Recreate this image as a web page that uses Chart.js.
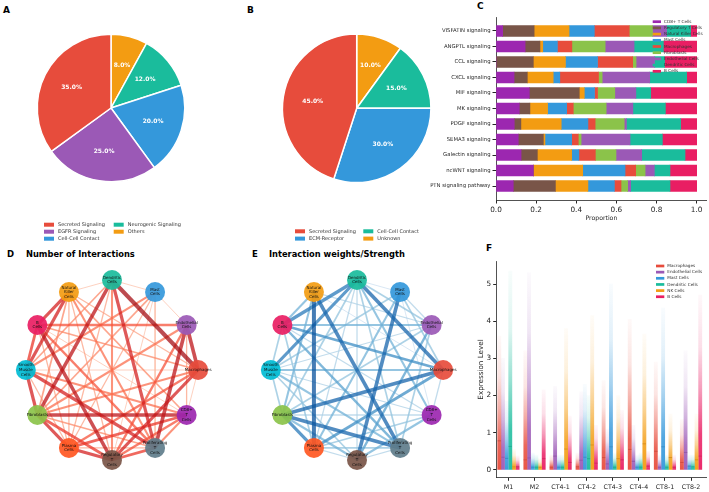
<!DOCTYPE html>
<html><head><meta charset="utf-8">
<script src="https://cdn.jsdelivr.net/npm/chart.js@4.4.1/dist/chart.umd.min.js"></script>
<style>
body{margin:0;width:709px;height:492px;background:#fff;position:relative;overflow:hidden;font-family:"DejaVu Sans",sans-serif;}
canvas{position:absolute;}
.lbl{position:absolute;font-weight:bold;color:#000;line-height:1;white-space:nowrap;}
</style></head><body>
<div class="lbl" style="left:3px;top:5.7px;font-size:9px">A</div>
<div class="lbl" style="left:247px;top:5.7px;font-size:9px">B</div>
<div class="lbl" style="left:477px;top:1.7px;font-size:9px">C</div>
<div class="lbl" style="left:7px;top:250px;font-size:8.5px">D</div>
<div class="lbl" style="left:26px;top:250px;font-size:8.3px">Number of Interactions</div>
<div class="lbl" style="left:252px;top:250px;font-size:8.5px">E</div>
<div class="lbl" style="left:269px;top:250px;font-size:8.3px">Interaction weights/Strength</div>
<div class="lbl" style="left:486px;top:244px;font-size:9px">F</div>
<canvas id="pieA" width="230" height="250" style="left:0;top:0"></canvas>
<canvas id="pieB" width="200" height="250" style="left:240px;top:0"></canvas>
<canvas id="barC" width="279" height="228" style="left:430px;top:0"></canvas>
<canvas id="netD" width="224" height="216" style="left:0;top:262px"></canvas>
<canvas id="netE" width="224" height="216" style="left:245px;top:262px"></canvas>
<canvas id="violinF" width="239" height="242" style="left:470px;top:250px"></canvas>
<script>
// ---------- DATA ----------
const pieALabels = ['Secreted Signaling','EGFR Signaling','Cell-Cell Contact','Neurogenic Signaling','Others'];
const pieAValues = [35,25,20,12,8];
const pieAColors = ['#e74c3c','#9b59b6','#3498db','#1abc9c','#f39c12'];

const pieBLabels = ['Secreted Signaling','ECM-Receptor','Cell-Cell Contact','Unknown'];
const pieBValues = [45,30,15,10];
const pieBColors = ['#e74c3c','#3498db','#1abc9c','#f39c12'];

const cPathways = ['VISFATIN signaling','ANGPTL signaling','CCL signaling','CXCL signaling','MIF signaling','MK signaling','PDGF signaling','SEMA3 signaling','Galectin signaling','ncWNT signaling','PTN signaling pathway'];
const cCellTypes = ['CD8+ T Cells','Regulatory T Cells','Natural Killer Cells','Mast Cells','Macrophages','Fibroblasts','Endothelial Cells','Dendritic Cells','B Cells'];
const cColors = ['#9c27b0','#795548','#f39c12','#3498db','#e74c3c','#8bc34a','#9b59b6','#1abc9c','#e91e63'];
const cCD8 =        [0.033,0.145,0.000,0.090,0.166,0.116,0.091,0.111,0.125,0.186,0.086];
const cTreg =       [0.157,0.074,0.186,0.066,0.249,0.053,0.033,0.125,0.081,0.000,0.210];
const cNK =         [0.174,0.014,0.160,0.129,0.025,0.088,0.201,0.008,0.171,0.246,0.162];
const cMast =       [0.126,0.073,0.160,0.033,0.051,0.095,0.133,0.133,0.036,0.211,0.132];
const cMacro =      [0.174,0.072,0.175,0.193,0.015,0.033,0.036,0.033,0.082,0.053,0.033];
const cFibro =      [0.116,0.166,0.017,0.018,0.086,0.164,0.145,0.014,0.103,0.047,0.033];
const cEndo =       [0.070,0.144,0.092,0.237,0.105,0.133,0.011,0.244,0.128,0.046,0.015];
const cDendritic =  [0.120,0.146,0.050,0.184,0.074,0.162,0.270,0.161,0.216,0.078,0.196];
const cBcells =     [0.030,0.166,0.160,0.050,0.229,0.156,0.080,0.171,0.058,0.133,0.133];
const cSeries = [cCD8,cTreg,cNK,cMast,cMacro,cFibro,cEndo,cDendritic,cBcells];
const cTicks = [0,0.2,0.4,0.6,0.8,1.0];

const nodeNames = ['Dendritic\nCells','Mast\nCells','Endothelial\nCells','Macrophages','CD8+\nT\nCells','Proliferating\nT\nCells','Regulatory\nT\nCells','Plasma\nCells','Fibroblasts','Smooth\nMuscle\nCells','B\nCells','Natural\nKiller\nCells'];
const nodeColors = ['#1abc9c','#3498db','#9b59b6','#e74c3c','#9c27b0','#607d8b','#795548','#ff5722','#8bc34a','#00bcd4','#e91e63','#f39c12'];
// [source, target, weight]
const edgesD = [[0,3,10],[0,8,9],[10,6,9],[9,5,8],[8,4,9],[2,3,9],[2,5,9],[11,10,8],[11,9,8],[8,7,8],[7,6,8],[6,5,7],[9,8,8],[10,9,7],[0,5,8],[3,6,8],[4,7,7],[8,6,7],[10,2,6],[0,6,5],[3,7,6],[3,8,5],[2,8,5],[2,6,6],[1,9,5],[4,6,6],[4,5,5],[10,5,6],[11,4,4],[9,4,5],[1,8,4],[10,3,4],[0,9,4],[11,5,5],[11,7,3],[1,5,2],[11,3,3],[0,7,3],[1,7,3],[11,8,4],[9,3,2],[10,7,3],[0,11,2],[1,2,2],[0,1,2],[2,4,3],[9,7,3],[3,4,2],[8,5,4],[11,6,3],[7,5,3],[1,6,2],[10,4,2]];
const edgesE = [[11,7,10],[11,5,9],[1,6,9],[0,3,9],[0,10,8],[8,3,9],[8,5,9],[8,7,8],[10,3,7],[0,9,8],[2,6,6],[3,7,7],[10,5,6],[10,2,5],[9,3,5],[8,4,3],[0,2,4],[0,4,5],[0,5,4],[4,6,5],[4,7,4],[5,7,4],[1,7,5],[1,3,4],[9,5,5],[10,7,4],[11,8,5],[11,10,5],[9,8,4],[8,6,5],[7,6,3],[6,5,3],[2,8,4],[0,6,3],[0,8,4],[2,9,3],[1,9,4],[11,2,3],[10,4,3],[0,1,2],[1,2,3],[3,4,3],[9,4,3],[9,6,4],[11,3,2],[0,7,3],[10,9,4],[2,5,4],[1,4,2]];

const fGroups = ['M1','M2','CT4-1','CT4-2','CT4-3','CT4-4','CT8-1','CT8-2'];
const fCellTypes = ['Macrophages','Endothelial Cells','Mast Cells','Dendritic Cells','NK Cells','B Cells'];
const fColors = ['#e74c3c','#9b59b6','#3498db','#1abc9c','#f39c12','#e91e63'];
const fMaxMacrophages = [3.6,3.2,0.4,0.45,2.4,4.05,2.9,1.35];
const fMaxEndothelial = [3.0,5.3,2.25,2.1,1.1,1.2,0.4,3.2];
const fMaxMast =        [1.85,0.45,0.4,2.3,5.0,0.4,4.35,0.4];
const fMaxDendritic =   [5.35,0.4,0.4,2.0,0.45,0.45,0.4,0.4];
const fMaxNK =          [0.55,0.3,3.8,4.15,2.0,3.65,1.5,1.5];
const fMaxB =           [0.38,2.15,1.45,1.2,1.6,0.5,0.4,4.7];
const fMedMacrophages = [0.78,0.27,0.07,0.08,0.33,0.55,0.5,0.2];
const fMedEndothelial = [0.34,0.32,0.37,0.26,0.16,0.23,0.07,0.47];
const fMedMast =        [0.31,0.07,0.07,0.34,0.62,0.07,0.62,0.1];
const fMedDendritic =   [0.63,0.07,0.07,0.3,0.07,0.07,0.07,0.08];
const fMedNK =          [0.08,0.07,0.56,0.67,0.3,0.7,0.33,0.27];
const fMedB =           [0.08,0.3,0.2,0.18,0.27,0.1,0.07,0.37];
const fMax = [fMaxMacrophages,fMaxEndothelial,fMaxMast,fMaxDendritic,fMaxNK,fMaxB];
const fMed = [fMedMacrophages,fMedEndothelial,fMedMast,fMedDendritic,fMedNK,fMedB];
const fTicks = [0,1,2,3,4,5];

// ---------- HELPERS ----------
Chart.defaults.font.family = "'DejaVu Sans', sans-serif";
Chart.defaults.color = '#262626';
Chart.defaults.animation = false;
const FONT = "'DejaVu Sans', sans-serif";
function hexRgb(h){h=h.replace('#','');return [parseInt(h.slice(0,2),16),parseInt(h.slice(2,4),16),parseInt(h.slice(4,6),16)];}
function rgba(h,a){const c=hexRgb(h);return `rgba(${c[0]},${c[1]},${c[2]},${a})`;}
function cmap(stops,t,a){const n=stops.length-1;const p=Math.min(Math.max(t,0),1)*n;const i=Math.min(Math.floor(p),n-1);const f=p-i;const c=stops[i].map((v,k)=>Math.round(v+(stops[i+1][k]-v)*f));return `rgba(${c[0]},${c[1]},${c[2]},${a})`;}
const redsStops=[[252,187,161],[252,146,114],[251,106,74],[239,59,44],[203,24,29],[165,15,21]];
const bluesStops=[[198,219,239],[158,202,225],[107,174,214],[66,146,198],[33,113,181],[8,81,156]];

function boxLegend(id, getItems, cfg){
  return {id, afterDraw(chart){
    const items=getItems(chart); const c=chart.ctx; c.save();
    c.font=cfg.font; c.textBaseline='middle'; c.textAlign='left';
    items.forEach((it,i)=>{
      const col=Math.floor(i/cfg.rows), row=i%cfg.rows;
      const x=cfg.x+col*(cfg.colW||0), y=cfg.y+row*cfg.rowH;
      c.fillStyle=it.color; c.fillRect(x,y-cfg.boxH/2,cfg.boxW,cfg.boxH);
      c.fillStyle='#333'; c.fillText(it.label,x+cfg.boxW+cfg.gap,y);
    });
    c.restore();
  }};
}

const pieLabelPlugin = {id:'pieLabels', afterDatasetsDraw(chart){
  const meta=chart.getDatasetMeta(0); const data=chart.data.datasets[0].data;
  const total=data.reduce((a,b)=>a+b,0); const c=chart.ctx; c.save();
  c.font="bold 6px "+FONT; c.fillStyle='#fff'; c.textAlign='center'; c.textBaseline='middle';
  meta.data.forEach((arc,i)=>{
    const p=arc.getProps(['x','y','startAngle','endAngle','outerRadius'],true);
    const mid=(p.startAngle+p.endAngle)/2;
    c.fillText((data[i]/total*100).toFixed(1)+'%', p.x+Math.cos(mid)*p.outerRadius*0.6, p.y+Math.sin(mid)*p.outerRadius*0.6);
  });
  c.restore();
}};

function pieChart(id, labels, values, colors, pad, legendCfg){
  // matplotlib draws counter-clockwise from the top; Chart.js clockwise -> reverse order
  const rl=[...labels].reverse(), rv=[...values].reverse(), rc=[...colors].reverse();
  new Chart(document.getElementById(id),{
    type:'pie',
    data:{labels:rl,datasets:[{data:rv,backgroundColor:rc,borderColor:'#fff',borderWidth:1.5}]},
    options:{responsive:false,animation:false,layout:{padding:pad,autoPadding:false},
      plugins:{legend:{display:false},tooltip:{enabled:false}}},
    plugins:[pieLabelPlugin, boxLegend('lg'+id,()=>labels.map((l,i)=>({label:l,color:colors[i]})),legendCfg)]
  });
}

pieChart('pieA',pieALabels,pieAValues,pieAColors,{left:36.5,top:33.5,right:44.5,bottom:67.5},
  {x:44,y:224.7,rows:3,rowH:7,colW:69.7,boxW:10,boxH:4,gap:4,font:"5px "+FONT});
pieChart('pieB',pieBLabels,pieBValues,pieBColors,{left:41.7,top:33.3,right:8.3,bottom:66.7},
  {x:55,y:231.3,rows:2,rowH:7.3,colW:68.3,boxW:10,boxH:4,gap:4,font:"5px "+FONT});

// ---------- C: stacked horizontal bars ----------
new Chart(document.getElementById('barC'),{
  type:'bar',
  data:{datasets:cSeries.map((s,k)=>({label:cCellTypes[k],backgroundColor:cColors[k],borderWidth:0,barThickness:11,
    data:s.map((v,i)=>({x:v,y:i}))}))},
  options:{indexAxis:'y',responsive:false,animation:false,
    layout:{padding:{top:17,right:2.3,left:0,bottom:0},autoPadding:false},
    plugins:{legend:{display:false},tooltip:{enabled:false}},
    scales:{
      x:{type:'linear',stacked:true,min:0,max:1.05,offset:false,
        grid:{display:true,drawOnChartArea:false,drawTicks:true,tickLength:3.5,color:'#262626',offset:false},
        border:{display:true,color:'#262626',width:0.8},
        ticks:{stepSize:0.2,includeBounds:false,padding:2,font:{size:7.3},color:'#262626',callback:v=>cTicks.some(t=>Math.abs(t-v)<1e-6)?Number(v).toFixed(1):''},
        title:{display:true,text:'Proportion',font:{size:6.2},color:'#262626',padding:{top:1,bottom:6}},
        afterFit(s){s.height=28;}},
      y:{type:'linear',stacked:true,reverse:true,min:-0.9,max:10.9,offset:false,
        grid:{display:true,drawOnChartArea:false,drawTicks:true,tickLength:3.5,color:'#262626',offset:false},
        border:{display:true,color:'#262626',width:0.8},
        ticks:{stepSize:1,includeBounds:false,autoSkip:false,padding:2,font:{size:5.3},color:'#262626',callback:v=>cPathways[v]??''},
        afterFit(s){s.width=66;}}
    }},
  plugins:[boxLegend('lgC',ch=>ch.data.datasets.map(d=>({label:d.label,color:d.backgroundColor})),
    {x:222.7,y:21.7,rows:9,rowH:6.2,boxW:8.3,boxH:2.7,gap:3,font:"4.2px "+FONT})]
});

// ---------- D / E networks ----------
const nodeLabelPlugin = {id:'nodeLabels', afterDatasetsDraw(chart){
  const meta=chart.getDatasetMeta(0); const c=chart.ctx; c.save();
  c.font="4px "+FONT; c.fillStyle='#111'; c.textAlign='center'; c.textBaseline='middle';
  meta.data.forEach((pt,i)=>{
    const lines=nodeNames[i].split('\n'); const lh=4.6;
    lines.forEach((ln,j)=>c.fillText(ln,pt.x,pt.y+(j-(lines.length-1)/2)*lh));
  });
  c.restore();
}};
function networkChart(id, edges, stops){
  const pos=nodeNames.map((_,i)=>{const a=(90-30*i)*Math.PI/180;return {x:Math.cos(a),y:Math.sin(a)};});
  const ws=edges.map(e=>e[2]); const wMin=Math.min(...ws), wMax=Math.max(...ws);
  const sorted=[...edges].sort((a,b)=>b[2]-a[2]);
  const datasets=[{data:pos.map(p=>({...p})),pointRadius:10,pointHoverRadius:10,
    backgroundColor:nodeColors.map(c=>rgba(c,0.92)),borderWidth:0}];
  sorted.forEach(([s,t,w])=>{
    const f=(w-wMin)/(wMax-wMin);
    datasets.push({data:[{...pos[s]},{...pos[t]}],showLine:true,pointRadius:0,pointHoverRadius:0,
      borderColor:cmap(stops,f,0.75),borderWidth:0.9+f*3.1});
  });
  new Chart(document.getElementById(id),{
    type:'scatter',data:{datasets},
    options:{responsive:false,animation:false,layout:{padding:0,autoPadding:false},
      plugins:{legend:{display:false},tooltip:{enabled:false}},
      scales:{x:{display:false,min:-1.3,max:1.3},y:{display:false,min:-1.2,max:1.2}}},
    plugins:[nodeLabelPlugin]
  });
}
networkChart('netD',edgesD,redsStops);
networkChart('netE',edgesE,bluesStops);

// ---------- F: violins ----------
const fSpacing=0.1405;
const fDatasets=fCellTypes.map((name,k)=>({
  type:'bar',label:name,grouped:false,barThickness:3.2,borderWidth:0,
  data:fGroups.map((g,i)=>({x:i+(k-2.5)*fSpacing,y:[0,fMax[k][i]]})),
  backgroundColor:(ctx)=>{
    const ch=ctx.chart; if(!ch.chartArea||ctx.type!=='data'||!ctx.raw) return rgba(fColors[k],0.6);
    const ys=ch.scales.y; const y0=ys.getPixelForValue(ctx.raw.y[0]), y1=ys.getPixelForValue(ctx.raw.y[1]);
    const g=ch.ctx.createLinearGradient(0,y0,0,y1);
    g.addColorStop(0,rgba(fColors[k],0.95)); g.addColorStop(0.2,rgba(fColors[k],0.85));
    g.addColorStop(0.45,rgba(fColors[k],0.45)); g.addColorStop(0.7,rgba(fColors[k],0.15));
    g.addColorStop(1,rgba(fColors[k],0.03));
    return g;
  }
}));
fDatasets.push({type:'scatter',label:'median',pointStyle:'line',pointRadius:1.6,pointHoverRadius:1.6,borderColor:'rgba(20,20,20,0.85)',borderWidth:0.9,
  data:fCellTypes.flatMap((n,k)=>fGroups.map((g,i)=>({x:i+(k-2.5)*fSpacing,y:fMed[k][i]})))});
new Chart(document.getElementById('violinF'),{
  type:'bar',data:{datasets:fDatasets},
  options:{responsive:false,animation:false,
    layout:{padding:{top:11.7,right:2.3,left:0,bottom:0},autoPadding:false},
    plugins:{legend:{display:false},tooltip:{enabled:false}},
    scales:{
      x:{type:'linear',min:-0.45,max:7.6,offset:false,
        grid:{display:true,drawOnChartArea:false,drawTicks:true,tickLength:3.5,color:'#262626',offset:false},
        border:{display:true,color:'#262626',width:0.8},
        ticks:{stepSize:1,includeBounds:false,autoSkip:false,maxRotation:0,padding:3,font:{size:6.3},color:'#262626',callback:v=>fGroups[v]??''},
        afterFit(s){s.height=14.7;}},
      y:{type:'linear',min:-0.2,max:5.6,
        grid:{display:true,drawOnChartArea:false,drawTicks:true,tickLength:3.5,color:'#262626'},
        border:{display:true,color:'#262626',width:0.8},
        ticks:{stepSize:1,includeBounds:false,padding:2,font:{size:7.3},color:'#262626',callback:v=>fTicks.includes(v)?String(v):''},
        title:{display:true,text:'Expression Level',font:{size:7.2},color:'#262626',padding:{top:7,bottom:0}},
        afterFit(s){s.width=26.7;}}
    }},
  plugins:[boxLegend('lgF',ch=>ch.data.datasets.slice(0,6).map((d,k)=>({label:d.label,color:fColors[k]})),
    {x:186,y:16,rows:6,rowH:6.15,boxW:8.3,boxH:2.7,gap:3,font:"4.2px "+FONT})]
});
</script>
</body></html>
